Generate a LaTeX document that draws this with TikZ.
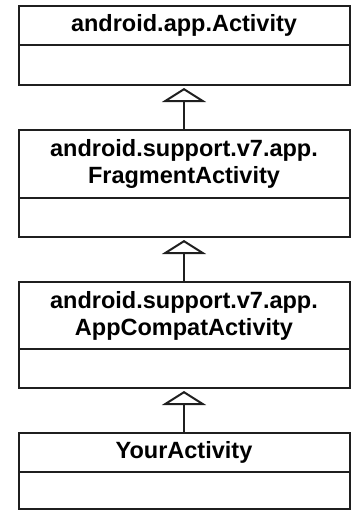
\documentclass[tikz,border=0pt]{standalone}
\usepackage{fontspec}
\setmainfont{Liberation Sans}
\usetikzlibrary{arrows.meta,positioning}

\tikzset{
  classhead/.style={draw=black!88,line width=2pt,outer sep=0pt,inner sep=0pt,
    minimum width=331pt,align=center,font=\bfseries\fontsize{23.5}{27}\selectfont},
  classbody/.style={draw=black!88,line width=2pt,outer sep=0pt,inner sep=0pt,
    minimum width=331pt,below=0pt of #1},
  inherit/.style={draw=black!88,line width=2pt,
    -{Triangle[open,length=14pt,width=44pt,line width=2pt]},shorten >=3pt}
}

\begin{document}
\begin{tikzpicture}[x=1pt,y=1pt]
  \useasboundingbox (0,0) rectangle (351,-511);

  % class boxes: header part with the name, empty body part below
  \node[classhead,minimum height=39pt] (activity) at (184,-25.5)
    {android.app.Activity};
  \node[classbody=activity,minimum height=40pt] (activitybody) {};

  \node[classhead,minimum height=68pt] (fragment) at (184,-164)
    {android.support.v7.app.\\FragmentActivity};
  \node[classbody=fragment,minimum height=39pt] (fragmentbody) {};

  \node[classhead,minimum height=67pt] (appcompat) at (184,-315.5)
    {android.support.v7.app.\\AppCompatActivity};
  \node[classbody=appcompat,minimum height=39pt] (appcompatbody) {};

  \node[classhead,minimum height=39pt] (youractivity) at (184,-452.5)
    {YourActivity};
  \node[classbody=youractivity,minimum height=37pt] (youractivitybody) {};

  % generalisation arrows
  \draw[inherit] (fragment.north) -- (activitybody.south);
  \draw[inherit] (appcompat.north) -- (fragmentbody.south);
  \draw[inherit] (youractivity.north) -- (appcompatbody.south);
\end{tikzpicture}
\end{document}
